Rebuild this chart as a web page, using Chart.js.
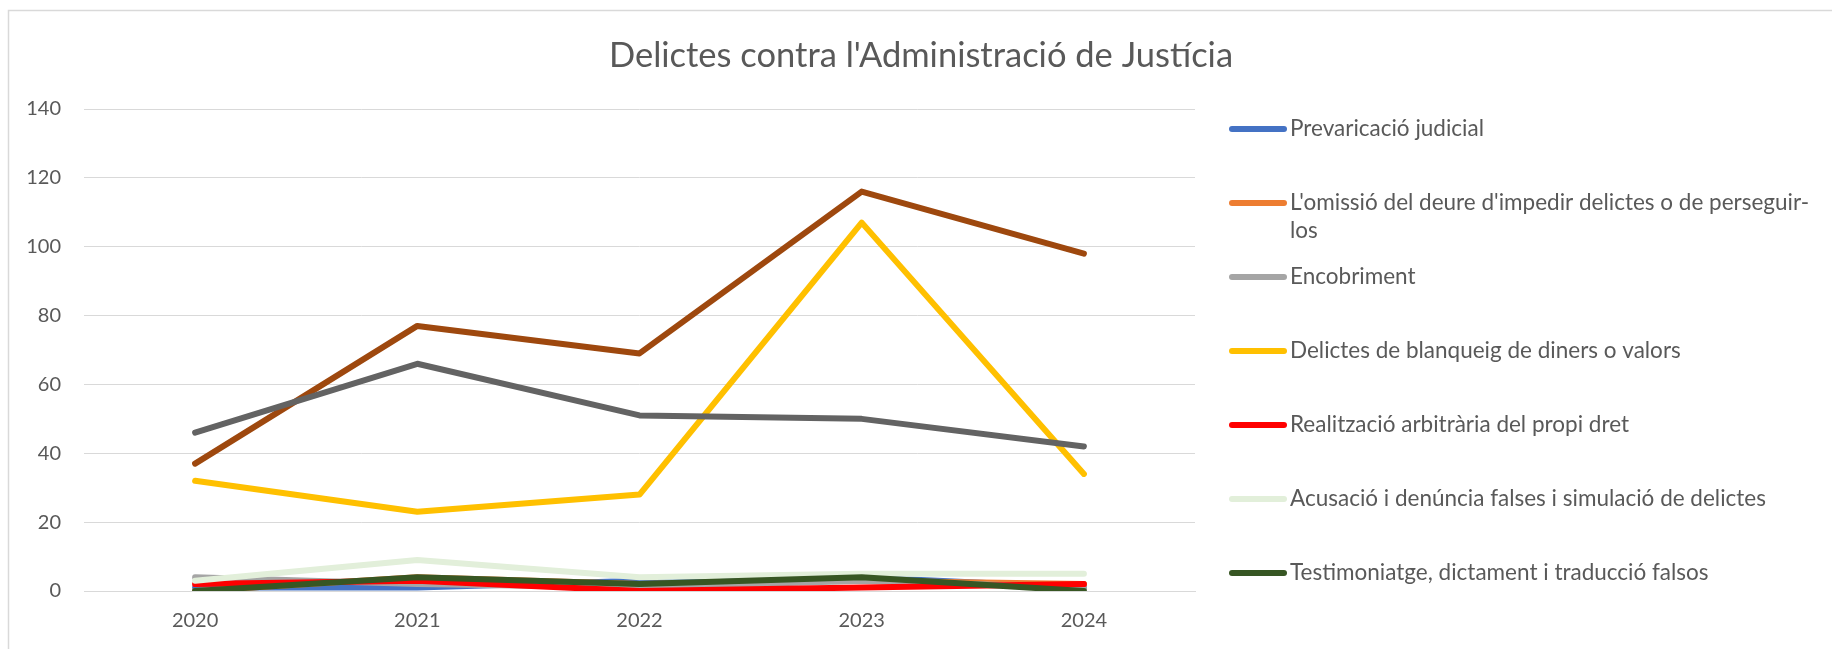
<!DOCTYPE html>
<html>
<head>
<meta charset="utf-8">
<script src="https://cdn.jsdelivr.net/npm/chart.js@4/dist/chart.umd.min.js"></script>
<style>
  html, body { margin: 0; padding: 0; background: #ffffff; }
  #wrap { position: relative; width: 1832px; height: 649px; }
</style>
</head>
<body>
<div id="wrap"><canvas id="chart" width="1832" height="649"></canvas></div>
<script>
// Years on the horizontal axis
const years = ['2020', '2021', '2022', '2023', '2024'];

// Value axis tick labels
const yTicks = [0, 20, 40, 60, 80, 100, 120, 140];

// Series names
const seriesNames = [
  'Prevaricació judicial',
  "L'omissió del deure d'impedir delictes o de perseguir-los",
  'Encobriment',
  'Delictes de blanqueig de diners o valors',
  'Realització arbitrària del propi dret',
  'Acusació i denúncia falses i simulació de delictes',
  'Testimoniatge, dictament i traducció falsos',
  'Obstrucció a la justícia i deslleialtat professional',
  'Quebrantament de condemna'
];

// Yearly counts per series
const prevaricacio   = [1, 1, 3, 4, 1];
const omissio        = [0, 4, 2, 3, 2];
const encobriment    = [4, 2, 1, 3, 1];
const blanqueig      = [32, 23, 28, 107, 34];
const realitzacio    = [2, 3, 0, 1, 2];
const acusacio       = [3, 9, 4, 5, 5];
const testimoniatge  = [0, 4, 2, 4, 0];
const obstruccio     = [37, 77, 69, 116, 98];
const quebrantament  = [46, 66, 51, 50, 42];

const seriesValues = [prevaricacio, omissio, encobriment, blanqueig, realitzacio,
                      acusacio, testimoniatge, obstruccio, quebrantament];

const seriesColors = ['#4472C4', '#ED7D31', '#A5A5A5', '#FFC000', '#FF0000',
                      '#E2EFDA', '#375623', '#9E480E', '#636363'];

// Only the first seven series are listed in the legend
const legendCount = 7;

const TEXT = '#595959';
const GRID = '#D9D9D9';
const FONT = 'Lato, "Open Sans", sans-serif';

// Frame and title
const framePlugin = {
  id: 'frame',
  beforeDraw(chart) {
    const ctx = chart.ctx;
    ctx.save();
    ctx.fillStyle = '#ffffff';
    ctx.fillRect(0, 0, chart.width, chart.height);
    ctx.strokeStyle = GRID;
    ctx.lineWidth = 1.5;
    ctx.strokeRect(8.5, 10.5, chart.width + 20, chart.height + 20);
    ctx.fillStyle = TEXT;
    ctx.font = '34.5px ' + FONT;
    ctx.textAlign = 'center';
    ctx.textBaseline = 'middle';
    ctx.fillText("Delictes contra l'Administració de Justícia", 921, 56);
    ctx.restore();
  }
};

// Legend on the right, with wrapping of long names
const sideLegend = {
  id: 'sideLegend',
  afterDraw(chart) {
    const ctx = chart.ctx;
    const lineX0 = 1232, lineX1 = 1284, textX = 1290;
    const top = 129, step = 74, lineH = 28;
    const maxW = chart.width - textX - 12;
    ctx.save();
    ctx.font = '22.5px ' + FONT;
    ctx.textBaseline = 'middle';
    ctx.textAlign = 'left';
    chart.data.datasets.slice(0, legendCount).forEach((ds, i) => {
      const y = top + i * step;
      ctx.strokeStyle = ds.borderColor;
      ctx.lineWidth = 6;
      ctx.lineCap = 'round';
      ctx.beginPath();
      ctx.moveTo(lineX0, y);
      ctx.lineTo(lineX1, y);
      ctx.stroke();
      // wrap after spaces or hyphens
      const tokens = ds.label.split(/(?<=[ \-])/);
      const lines = [];
      let cur = '';
      tokens.forEach(t => {
        if (cur && ctx.measureText(cur + t).width > maxW) {
          lines.push(cur);
          cur = t;
        } else {
          cur += t;
        }
      });
      lines.push(cur);
      ctx.fillStyle = TEXT;
      lines.forEach((ln, k) => ctx.fillText(ln.trimEnd(), textX, y + k * lineH));
    });
    ctx.restore();
  }
};

const datasets = seriesNames.map((name, i) => ({
  label: name,
  data: seriesValues[i],
  borderColor: seriesColors[i],
  backgroundColor: seriesColors[i],
  borderWidth: 6,
  borderCapStyle: 'round',
  borderJoinStyle: 'round',
  pointRadius: 0,
  pointHoverRadius: 0,
  tension: 0,
  fill: false,
  order: seriesNames.length - i
}));

new Chart(document.getElementById('chart'), {
  type: 'line',
  data: { labels: years, datasets },
  options: {
    responsive: false,
    animation: false,
    events: [],
    layout: { padding: { top: 109, right: 637, bottom: -2, left: 0 } },
    plugins: {
      legend: { display: false },
      title: { display: false },
      tooltip: { enabled: false }
    },
    scales: {
      x: {
        offset: true,
        grid: { display: false, drawTicks: false },
        border: { display: true, color: GRID, width: 1 },
        ticks: { color: TEXT, font: { family: FONT, size: 20 }, padding: 18, maxRotation: 0 }
      },
      y: {
        min: yTicks[0],
        max: yTicks[yTicks.length - 1],
        afterBuildTicks(scale) { scale.ticks = yTicks.map(v => ({ value: v })); },
        afterFit(scale) { scale.width = 84; },
        grid: { color: GRID, lineWidth: 1, drawTicks: false },
        border: { display: false },
        ticks: { color: TEXT, font: { family: FONT, size: 20 }, padding: 23 }
      }
    }
  },
  plugins: [framePlugin, sideLegend]
});
</script>
</body>
</html>
